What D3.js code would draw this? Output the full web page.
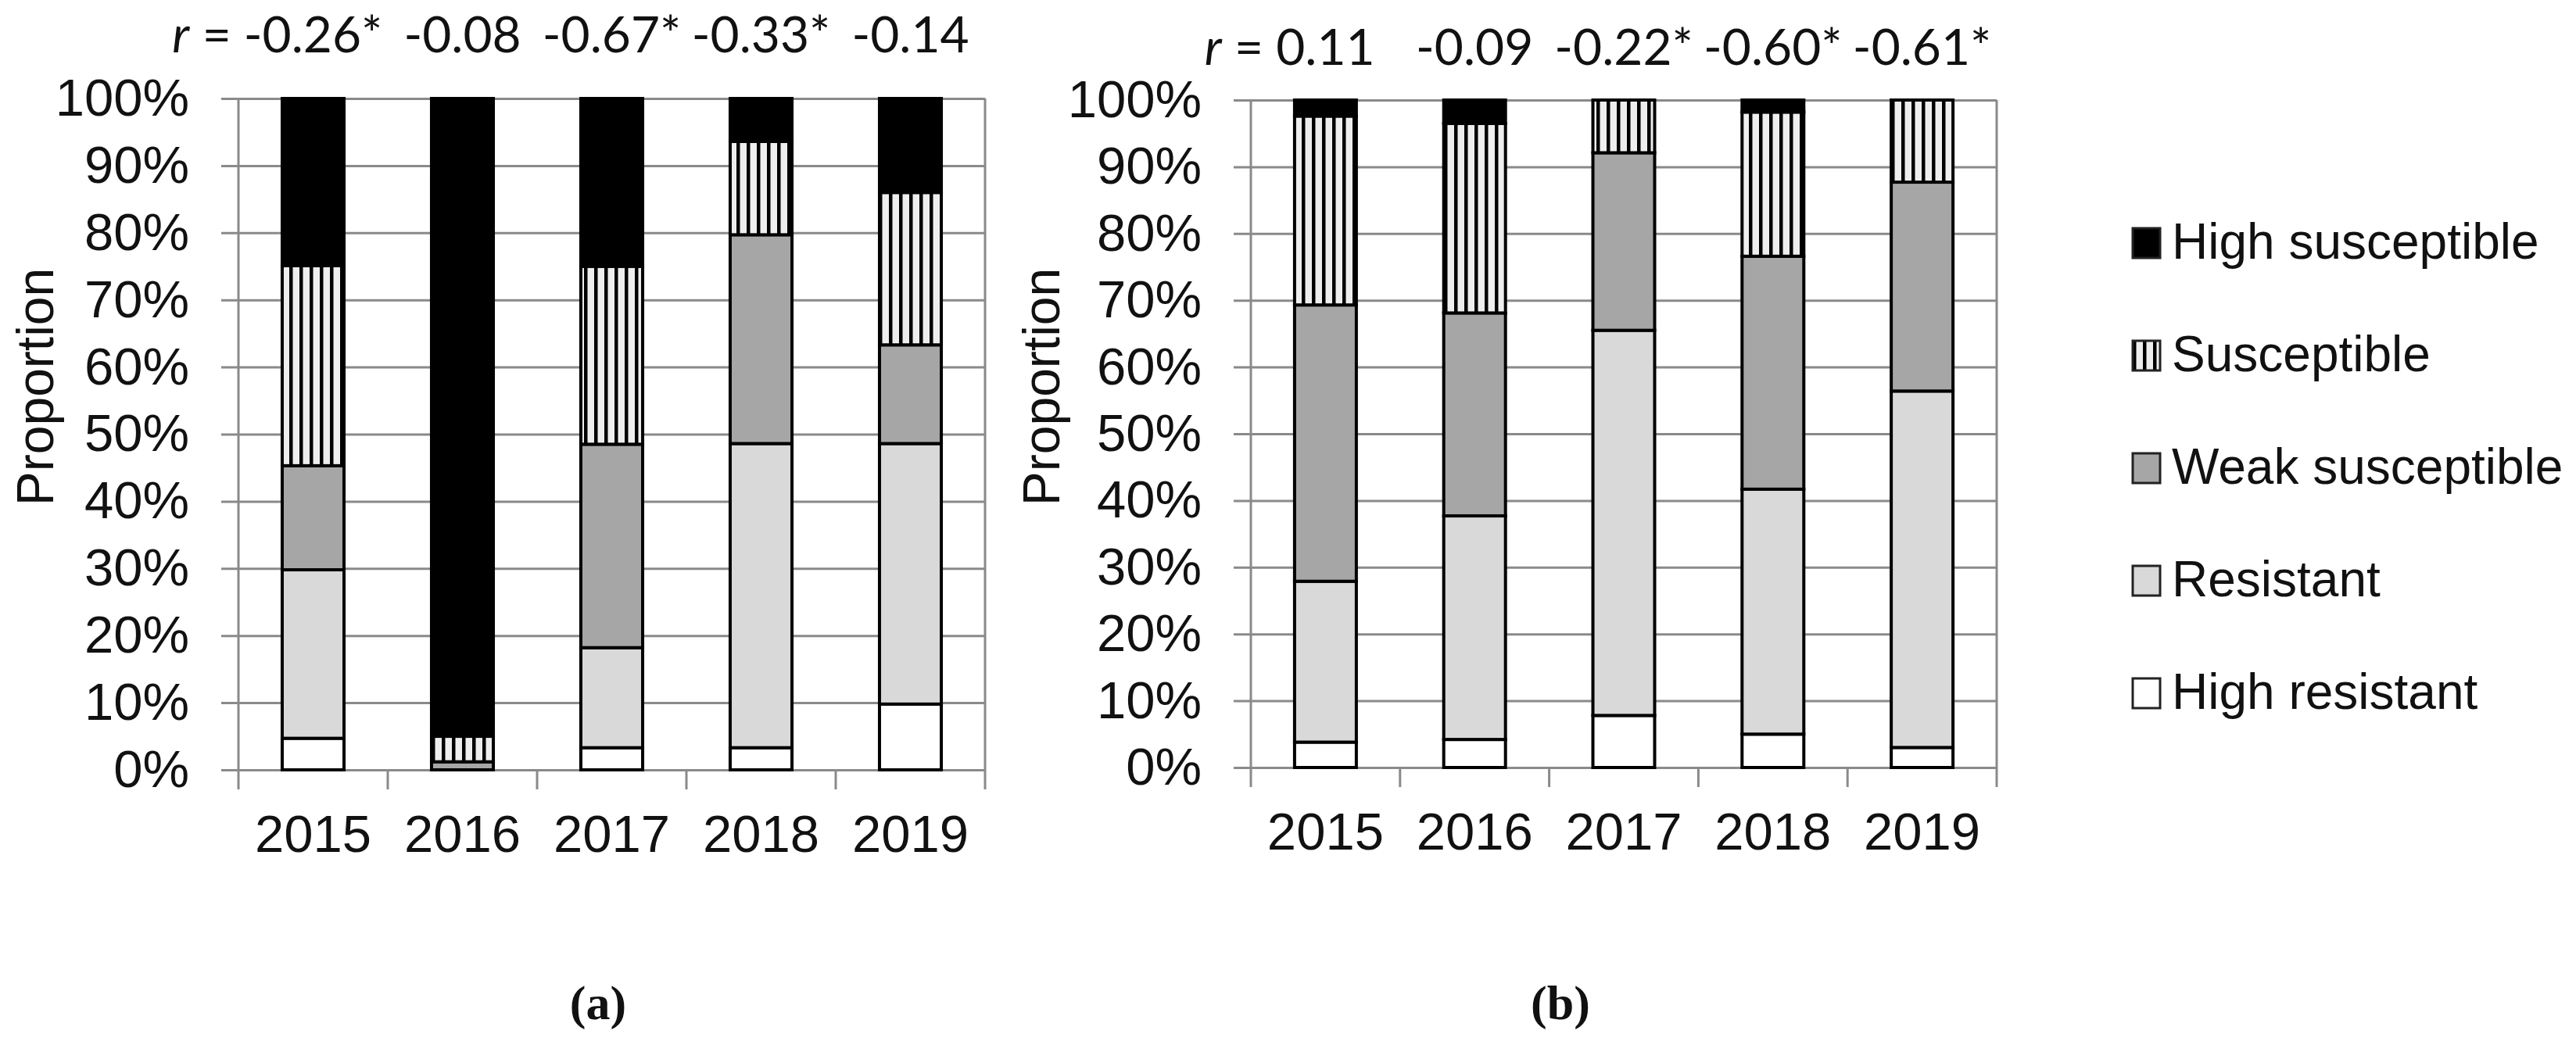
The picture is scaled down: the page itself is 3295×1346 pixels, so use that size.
<!DOCTYPE html>
<html>
<head>
<meta charset="utf-8">
<script src="https://cdn.jsdelivr.net/npm/d3@7"></script>
<style>
  body { margin: 0; background: #fff; }
  svg { display: block; }
  text { font-family: "Liberation Sans", Arial, sans-serif; fill: #111; }
</style>
</head>
<body>
<svg id="chart" width="3295" height="1346"></svg>
<script>
const years = ["2015", "2016", "2017", "2018", "2019"];
// stacking order, bottom to top
const classes = ["High resistant", "Resistant", "Weak susceptible", "Susceptible", "High susceptible"];

// panel (a), percent per year
const aHighResistant = [4.7, 0, 3.3, 3.3, 9.8];
const aResistant = [25.1, 0, 14.9, 45.3, 38.8];
const aWeak = [15.5, 1.2, 30.3, 31.1, 14.7];
const aSusceptible = [29.8, 3.8, 26.5, 13.9, 22.7];
const aHighSusc = [24.9, 95.0, 25.0, 6.4, 14.0];
const aR = ["-0.26*", "-0.08", "-0.67*", "-0.33*", "-0.14"];

// panel (b)
const bHighResistant = [3.8, 4.2, 7.8, 5.0, 3.0];
const bResistant = [24.1, 33.5, 57.7, 36.7, 53.4];
const bWeak = [41.4, 30.4, 26.6, 34.9, 31.3];
const bSusceptible = [28.3, 28.4, 7.9, 21.6, 12.3];
const bHighSusc = [2.4, 3.5, 0, 1.8, 0];
const bR = ["0.11", "-0.09", "-0.22*", "-0.60*", "-0.61*"];

const yTicks = d3.range(0, 101, 10);

const fills = {
  "High resistant": "#ffffff",
  "Resistant": "#d9d9d9",
  "Weak susceptible": "#a6a6a6",
  "Susceptible": "url(#stripes)",
  "High susceptible": "#000000"
};

const svg = d3.select("#chart");

const defs = svg.append("defs");
const pat = defs.append("pattern")
  .attr("id", "stripes")
  .attr("patternUnits", "userSpaceOnUse")
  .attr("width", 13)
  .attr("height", 10);
pat.append("rect").attr("width", 13).attr("height", 10).attr("fill", "#eeeeee");
pat.append("rect").attr("width", 4.5).attr("height", 10).attr("fill", "#000");

function rows(hr, r, w, s, hs) {
  return years.map((y, i) => ({
    year: y,
    "High resistant": hr[i],
    "Resistant": r[i],
    "Weak susceptible": w[i],
    "Susceptible": s[i],
    "High susceptible": hs[i]
  }));
}

const panels = [
  { left: 305, right: 1260, top: 126, bottom: 985, rY: 67, titleX: 46, labelX: 765, label: "(a)",
    data: rows(aHighResistant, aResistant, aWeak, aSusceptible, aHighSusc), r: aR },
  { left: 1600, right: 2554, top: 128, bottom: 982, rY: 83, titleX: 1333, labelX: 1996, label: "(b)",
    data: rows(bHighResistant, bResistant, bWeak, bSusceptible, bHighSusc), r: bR }
];

const gridColor = "#8a8a8a";

panels.forEach(p => {
  const w = p.right - p.left;
  const x = d3.scaleBand().domain(years).range([0, w]).paddingInner(0.586).paddingOuter(0.293);
  const y = d3.scaleLinear().domain([0, 100]).range([p.bottom - p.top, 0]);
  const g = svg.append("g").attr("transform", `translate(${p.left},${p.top})`);
  const h = p.bottom - p.top;

  // y axis with gridlines
  const yAxis = g.append("g")
    .call(d3.axisLeft(y).tickValues(yTicks).tickFormat(d => d + "%").tickSize(-w).tickPadding(63));
  yAxis.select(".domain").remove();
  yAxis.selectAll("line").attr("x1", -22).attr("x2", w)
    .attr("stroke", gridColor).attr("stroke-width", 3);
  yAxis.selectAll("text").style("font-size", "67px").attr("fill", "#111");

  // left axis and right border
  [0, w].forEach(xx => {
    g.append("line").attr("x1", xx).attr("x2", xx).attr("y1", 0).attr("y2", h + 25)
      .attr("stroke", gridColor).attr("stroke-width", 3);
  });
  // category boundary ticks
  const step = x.step();
  years.forEach((yr, i) => {
    if (i === 0) return;
    const bx = x(yr) - (step - x.bandwidth()) / 2;
    g.append("line").attr("x1", bx).attr("x2", bx).attr("y1", h).attr("y2", h + 25)
      .attr("stroke", gridColor).attr("stroke-width", 3);
  });

  // x axis labels
  const xAxis = g.append("g").attr("transform", `translate(0,${h})`)
    .call(d3.axisBottom(x).tickSize(0).tickPadding(57));
  xAxis.select(".domain").remove();
  xAxis.selectAll("text").style("font-size", "67px").attr("fill", "#111");

  // stacked bars
  const series = d3.stack().keys(classes)(p.data);
  g.selectAll("g.layer")
    .data(series)
    .enter().append("g")
    .attr("class", "layer")
    .attr("fill", d => fills[d.key])
    .selectAll("rect")
    .data(d => d)
    .enter().append("rect")
    .attr("x", d => x(d.data.year))
    .attr("width", x.bandwidth())
    .attr("y", d => y(d[1]))
    .attr("height", d => y(d[0]) - y(d[1]))
    .attr("stroke", "#000")
    .attr("stroke-width", 4);

  // correlation labels
  p.r.forEach((val, i) => {
    const cx = p.left + x(years[i]) + x.bandwidth() / 2;
    const t = svg.append("text")
      .attr("x", cx).attr("y", p.rY)
      .attr("text-anchor", "middle")
      .style("font-family", "Lato, 'Open Sans', sans-serif")
      .style("font-size", "64px")
      .text(val);
    if (i === 0) {
      const tw = t.node().getComputedTextLength();
      const pre = svg.append("text")
        .attr("x", cx - tw / 2 - 16).attr("y", p.rY)
        .attr("text-anchor", "end")
        .style("font-family", "Lato, 'Open Sans', sans-serif")
        .style("font-size", "64px");
      pre.append("tspan").style("font-style", "italic").text("r");
      pre.append("tspan").text(" =");
    }
  });

  // y title
  svg.append("text")
    .attr("transform", `translate(${p.titleX + 22},${495}) rotate(-90)`)
    .attr("text-anchor", "middle")
    .style("font-size", "66px")
    .text("Proportion");

  // panel label
  svg.append("text")
    .attr("x", p.labelX).attr("y", 1304)
    .attr("text-anchor", "middle")
    .style("font-family", "'Liberation Serif', 'DejaVu Serif', serif")
    .style("font-weight", "bold")
    .style("font-size", "62px")
    .text(p.label);
});

// legend
const legendKeys = classes.slice().reverse();
const legend = svg.append("g").attr("transform", "translate(2728,311)");
legendKeys.forEach((k, i) => {
  const row = legend.append("g").attr("transform", `translate(0,${i * 144})`);
  row.append("rect")
    .attr("x", 0).attr("y", -19).attr("width", 35).attr("height", 38)
    .attr("fill", fills[k]).attr("stroke", "#222").attr("stroke-width", 3);
  row.append("text")
    .attr("x", 50).attr("y", 20)
    .style("font-size", "64px")
    .text(k);
});
</script>
</body>
</html>
